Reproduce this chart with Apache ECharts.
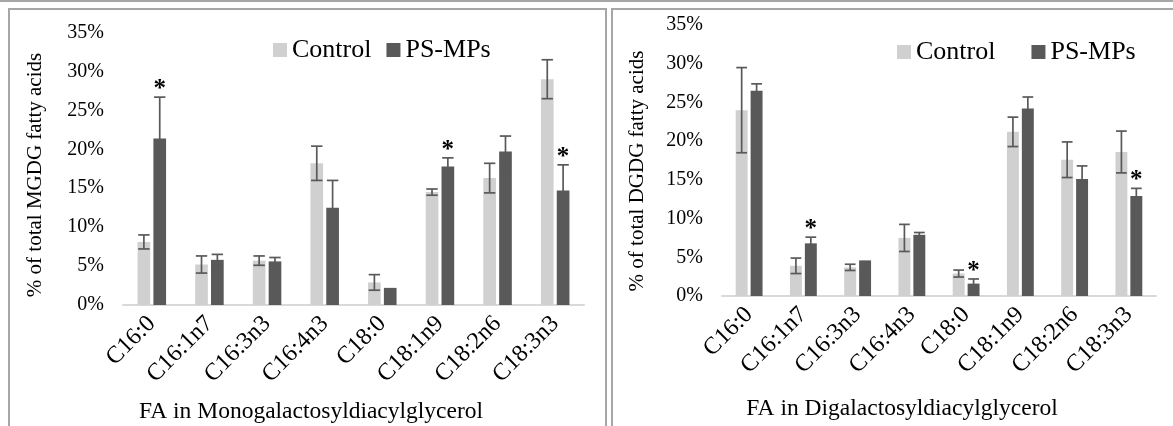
<!DOCTYPE html>
<html>
<head>
<meta charset="utf-8">
<script src="https://cdn.jsdelivr.net/npm/echarts@6/dist/echarts.min.js"></script>
<style>
html,body{margin:0;padding:0;background:#fff;}
#chart{width:1173px;height:426px;}
</style>
</head>
<body>
<div id="chart"></div>
<script>
const categories = ['C16:0','C16:1n7','C16:3n3','C16:4n3','C18:0','C18:1n9','C18:2n6','C18:3n3'];
const yTicks = [0,5,10,15,20,25,30,35];

const mgdgControl    = [8.1, 5.2, 5.7, 18.2, 2.9, 14.5, 16.3, 29.0];
const mgdgControlErr = [0.9, 1.1, 0.6, 2.2, 1.0, 0.4, 1.9, 2.5];
const mgdgPS         = [21.4, 5.8, 5.6, 12.5, 2.2, 17.8, 19.7, 14.7];
const mgdgPSErr      = [5.3, 0.7, 0.5, 3.5, 0, 1.1, 2.0, 3.3];
const mgdgSig        = [1, 0, 0, 0, 0, 1, 0, 1];

const dgdgControl    = [24.0, 3.9, 3.7, 7.5, 2.9, 21.2, 17.6, 18.6];
const dgdgControlErr = [5.5, 1.0, 0.4, 1.75, 0.45, 1.9, 2.3, 2.7];
const dgdgPS         = [26.5, 6.8, 4.6, 7.9, 1.6, 24.2, 15.1, 12.9];
const dgdgPSErr      = [0.9, 0.8, 0, 0.3, 0.6, 1.5, 1.7, 1.0];
const dgdgSig        = [0, 1, 0, 0, 1, 0, 0, 1];

const FONT = "'Liberation Serif','Times New Roman',serif";
const C_CTRL = '#d0d0d0';
const C_PS = '#595959';
const BAR_FRAC = 0.22;
const GAP_FRAC = 0.25;

function errRender(sign) {
  return function (params, api) {
    const i = api.value(0), v = api.value(1), e = api.value(2), s = api.value(3);
    const band = api.size([1, 0])[0];
    const barW = band * BAR_FRAC;
    const off = sign * (barW + barW * GAP_FRAC) / 2;
    const base = api.coord([i, v]);
    const x = base[0] + off;
    const top = api.coord([i, v + e])[1];
    const bot = api.coord([i, v - e])[1];
    const cap = barW * 0.45;
    const st = {stroke: C_PS, lineWidth: 1.7};
    const children = [];
    if (e > 0) {
      children.push({type: 'line', shape: {x1: x, y1: top, x2: x, y2: bot}, style: st});
      children.push({type: 'line', shape: {x1: x - cap, y1: top, x2: x + cap, y2: top}, style: st});
      children.push({type: 'line', shape: {x1: x - cap, y1: bot, x2: x + cap, y2: bot}, style: st});
    }
    if (s) {
      children.push({type: 'text', style: {text: '*', x: x, y: top + 5, align: 'center', verticalAlign: 'bottom',
        fontSize: 25, fontFamily: FONT, fontWeight: 'bold', fill: '#000'}});
    }
    return {type: 'group', children: children};
  };
}

function errData(vals, errs, sig) {
  return vals.map((v, i) => [i, v, errs[i], sig ? sig[i] : 0]);
}

function xAxisFor(gi) {
  return {
    type: 'category', gridIndex: gi, data: categories,
    axisLine: {lineStyle: {color: '#d9d9d9', width: 2}},
    axisTick: {show: false},
    axisLabel: {rotate: 45, margin: 15, interval: 0, color: '#000', fontFamily: FONT, fontSize: 24}
  };
}
function yAxisFor(gi) {
  return {
    type: 'value', gridIndex: gi, min: 0, max: 35, interval: 5,
    axisLine: {show: false}, axisTick: {show: false}, splitLine: {show: false},
    axisLabel: {margin: 19, formatter: '{value}%', color: '#000', fontFamily: FONT, fontSize: 20}
  };
}

const option = {
  backgroundColor: '#fff',
  animation: false,
  grid: [
    {left: 123, top: 32.5, width: 461, height: 272.5},
    {left: 722, top: 25, width: 434, height: 271}
  ],
  xAxis: [xAxisFor(0), xAxisFor(1)],
  yAxis: [yAxisFor(0), yAxisFor(1)],
  legend: [
    {left: 268, top: 32, itemWidth: 14, itemHeight: 14, itemGap: 15, icon: 'rect',
     textStyle: {fontFamily: FONT, fontSize: 26, color: '#000'}, data: ['Control', 'PS-MPs']},
    {left: 892, top: 34, itemWidth: 14, itemHeight: 14, itemGap: 36, icon: 'rect',
     textStyle: {fontFamily: FONT, fontSize: 26, color: '#000'}, data: ['Control', 'PS-MPs']}
  ],
  graphic: [
    {type: 'line', shape: {x1: 0, y1: 1, x2: 1173, y2: 1}, style: {stroke: '#a6a6a6', lineWidth: 2}},
    {type: 'rect', shape: {x: 9, y: 9, width: 597, height: 430}, style: {fill: null, stroke: '#a6a6a6', lineWidth: 2}},
    {type: 'rect', shape: {x: 612, y: 9, width: 600, height: 430}, style: {fill: null, stroke: '#a6a6a6', lineWidth: 2}},
    {type: 'text', x: 35, y: 175, rotation: Math.PI / 2,
     style: {text: '% of total MGDG fatty acids', align: 'center', verticalAlign: 'middle', fontFamily: FONT, fontSize: 21, fill: '#000'}},
    {type: 'text', x: 637, y: 171, rotation: Math.PI / 2,
     style: {text: '% of total DGDG fatty acids', align: 'center', verticalAlign: 'middle', fontFamily: FONT, fontSize: 21, fill: '#000'}},
    {type: 'text', x: 311, y: 412,
     style: {text: 'FA in Monogalactosyldiacylglycerol', align: 'center', verticalAlign: 'middle', fontFamily: FONT, fontSize: 23.5, fill: '#000'}},
    {type: 'text', x: 902, y: 409,
     style: {text: 'FA in Digalactosyldiacylglycerol', align: 'center', verticalAlign: 'middle', fontFamily: FONT, fontSize: 23.5, fill: '#000'}}
  ],
  series: [
    {name: 'Control', type: 'bar', xAxisIndex: 0, yAxisIndex: 0, data: mgdgControl,
     barWidth: (BAR_FRAC * 100) + '%', barGap: (GAP_FRAC * 100) + '%', itemStyle: {color: C_CTRL}},
    {name: 'PS-MPs', type: 'bar', xAxisIndex: 0, yAxisIndex: 0, data: mgdgPS,
     barWidth: (BAR_FRAC * 100) + '%', barGap: (GAP_FRAC * 100) + '%', itemStyle: {color: C_PS}},
    {name: 'Control', type: 'bar', xAxisIndex: 1, yAxisIndex: 1, data: dgdgControl,
     barWidth: (BAR_FRAC * 100) + '%', barGap: (GAP_FRAC * 100) + '%', itemStyle: {color: C_CTRL}},
    {name: 'PS-MPs', type: 'bar', xAxisIndex: 1, yAxisIndex: 1, data: dgdgPS,
     barWidth: (BAR_FRAC * 100) + '%', barGap: (GAP_FRAC * 100) + '%', itemStyle: {color: C_PS}},
    {type: 'custom', xAxisIndex: 0, yAxisIndex: 0, renderItem: errRender(-1), encode: {x: 0, y: 1},
     data: errData(mgdgControl, mgdgControlErr, null), z: 10},
    {type: 'custom', xAxisIndex: 0, yAxisIndex: 0, renderItem: errRender(1), encode: {x: 0, y: 1},
     data: errData(mgdgPS, mgdgPSErr, mgdgSig), z: 10},
    {type: 'custom', xAxisIndex: 1, yAxisIndex: 1, renderItem: errRender(-1), encode: {x: 0, y: 1},
     data: errData(dgdgControl, dgdgControlErr, null), z: 10},
    {type: 'custom', xAxisIndex: 1, yAxisIndex: 1, renderItem: errRender(1), encode: {x: 0, y: 1},
     data: errData(dgdgPS, dgdgPSErr, dgdgSig), z: 10}
  ]
};

const chart = echarts.init(document.getElementById('chart'), null, {renderer: 'canvas'});
chart.setOption(option);
</script>
</body>
</html>
